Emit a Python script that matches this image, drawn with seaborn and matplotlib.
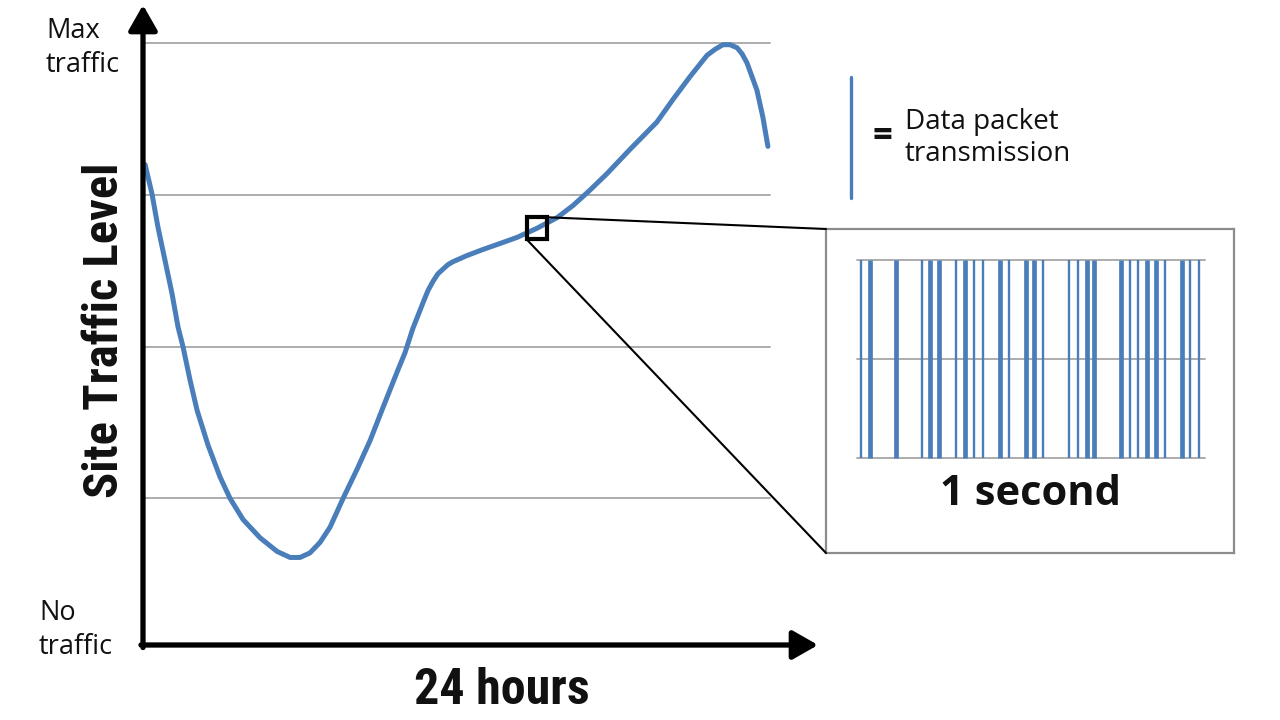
import matplotlib
matplotlib.use("Agg")
import matplotlib.pyplot as plt
from matplotlib import font_manager
from matplotlib.patches import Rectangle, ConnectionPatch
import seaborn as sns
import pandas as pd

# ---------------- data ----------------
hours = [0.08, 0.34, 0.57, 0.84, 1.11, 1.34, 1.53, 1.80, 2.07, 2.49, 2.95, 3.33,
         3.83, 4.48, 5.13, 5.63, 6.01, 6.39, 6.78, 7.16, 7.66, 8.19, 8.69, 9.19,
         9.72, 10.03, 10.33, 10.72, 10.91, 11.10, 11.29, 11.48, 11.67, 11.87,
         12.40, 13.01, 13.67, 14.32, 15.08, 15.85, 16.46, 17.10, 17.76, 18.64,
         19.67, 20.29, 20.94, 21.59, 21.90, 22.20, 22.47, 22.74, 22.93, 23.12,
         23.50, 23.73, 23.92]
traffic = [3.20, 3.01, 2.79, 2.57, 2.35, 2.13, 2.00, 1.78, 1.58, 1.35, 1.14, 1.00,
           0.86, 0.74, 0.65, 0.61, 0.61, 0.64, 0.71, 0.81, 1.00, 1.19, 1.38, 1.60,
           1.83, 1.96, 2.12, 2.29, 2.37, 2.43, 2.48, 2.51, 2.54, 2.56,
           2.60, 2.64, 2.68, 2.72, 2.78, 2.85, 2.93, 3.03, 3.14, 3.30,
           3.48, 3.63, 3.78, 3.92, 3.96, 3.99, 3.99, 3.97, 3.93, 3.87,
           3.69, 3.51, 3.32]
grid_levels = [1, 2, 3, 4]
zoom_hour = 15.08
zoom_level = 2.78

packet_times = [0.011, 0.037, 0.112, 0.186, 0.210, 0.236, 0.284, 0.310, 0.336,
                0.361, 0.411, 0.437, 0.486, 0.509, 0.534, 0.609, 0.635, 0.661,
                0.682, 0.759, 0.784, 0.807, 0.833, 0.859, 0.885, 0.934, 0.957, 0.983]
packet_sizes = [1, 2, 2, 1, 2, 2, 1, 2, 1, 1, 2, 1, 2, 2, 1, 1, 1, 2, 2,
                2, 1, 1, 2, 2, 1, 2, 1, 1]
inset_levels = [0, 1, 2]

label_max = "Max\ntraffic"
label_none = "No\ntraffic"
label_y = "Site Traffic Level"
label_x = "24 hours"
label_inset = "1 second"
legend_text = "Data packet\ntransmission"

# ---------------- style ----------------
sns.set_style("white")
available = {f.name for f in font_manager.fontManager.ttflist}
def pick(*names):
    for n in names:
        if n in available:
            return n
    return "DejaVu Sans"
narrow = pick("Liberation Sans Narrow", "Roboto Condensed", "Open Sans Condensed", "Liberation Sans")
body = pick("Open Sans", "Lato", "Noto Sans")
boldf = pick("Open Sans", "Lato", "Noto Sans")
plt.rcParams["font.family"] = [body, "DejaVu Sans"]

BLUE = "#4a7ebb"
GRID = "#a6a6a6"
INK = "#111111"

W, H = 1280, 720
fig = plt.figure(figsize=(12.8, 7.2), dpi=100)

# main axes: spans from axis origin to the arrow tips
ax = fig.add_axes([143 / W, 1 - 645 / H, (818 - 143) / W, (645 - 5) / H])
ax.set_xlim(0, 24 * 675 / 627)
ax.set_ylim((650 - 645) / 151.7, (650 - 5) / 151.7)
for s in ax.spines.values():
    s.set_visible(False)
ax.set_xticks([]); ax.set_yticks([])
ax.patch.set_alpha(0)

for lv in grid_levels:
    ax.plot([0, 24], [lv, lv], color=GRID, lw=1.3, zorder=1)

df = pd.DataFrame({"hour": hours, "traffic": traffic})
sns.lineplot(data=df, x="hour", y="traffic", ax=ax, color=BLUE, lw=3.6,
             sort=False, zorder=3)
ax.set_xlabel(""); ax.set_ylabel("")
ax.lines[-1].set_solid_capstyle("round")
ax.lines[-1].set_solid_joinstyle("round")

# axis arrows
arrow = dict(arrowstyle="-|>,head_length=0.7,head_width=0.4", lw=3.8, color="black",
             mutation_scale=22, shrinkA=0, shrinkB=0)
ax.annotate("", xy=(1, 0), xytext=(-0.003, 0), xycoords="axes fraction",
            arrowprops=arrow, zorder=5)
ax.annotate("", xy=(0, 1), xytext=(0, -0.004), xycoords="axes fraction",
            arrowprops=arrow, zorder=5)

# zoom square
sq_w, sq_h = 0.80, 0.145
ax.add_patch(Rectangle((zoom_hour - sq_w / 2, zoom_level - sq_h / 2), sq_w, sq_h,
                       fill=False, ec="black", lw=3, zorder=6))

# inset axes
iax = fig.add_axes([826 / W, 1 - 553 / H, 408 / W, 324 / H])
iax.set_xlim((826 - 857) / 348, (1234 - 857) / 348)
iax.set_ylim((458 - 553) / 99, (458 - 229) / 99)
iax.set_xticks([]); iax.set_yticks([])
for s in iax.spines.values():
    s.set_color("#8c8c8c"); s.set_linewidth(1.6)
for lv in inset_levels:
    iax.plot([0, 1], [lv, lv], color=GRID, lw=1.3, zorder=1)
for t, sz in zip(packet_times, packet_sizes):
    iax.plot([t, t], [0, 2], color=BLUE, lw=1.7 * sz, zorder=2,
             solid_capstyle="butt")
iax.text(0.5, -0.37, label_inset, ha="center", va="center", fontsize=30,
         fontweight="bold", family=[boldf, "DejaVu Sans"], color=INK)

# connecting lines
for (sx, sy), (ix, iy) in [(((zoom_hour + sq_w / 2), zoom_level + sq_h / 2), (0, 1)),
                           (((zoom_hour - sq_w / 2), zoom_level - sq_h / 2), (0, 0))]:
    con = ConnectionPatch(xyA=(sx, sy), coordsA=ax.transData,
                          xyB=(ix, iy), coordsB=iax.transAxes,
                          color="black", lw=1.5, zorder=4)
    fig.add_artist(con)

# texts
fig.text(46 / W, 1 - 48 / H, label_max, ha="left", va="center", fontsize=19.5,
         linespacing=1.25, color=INK)
fig.text(39 / W, 1 - 630 / H, label_none, ha="left", va="center", fontsize=19.5,
         linespacing=1.25, color=INK)
fig.text(105 / W, 1 - 330 / H, label_y, ha="center", va="center", rotation=90,
         fontsize=35, fontweight="bold", family=[narrow, "DejaVu Sans"], color=INK)
fig.text(502 / W, 1 - 690 / H, label_x, ha="center", va="center",
         fontsize=36, fontweight="bold", family=[narrow, "DejaVu Sans"], color=INK)

# legend
fig.add_artist(plt.Line2D([851 / W, 851 / W], [1 - 77 / H, 1 - 198 / H],
                          color=BLUE, lw=2.4, transform=fig.transFigure))
fig.text(882 / W, 1 - 137 / H, "=", ha="center", va="center", fontsize=25,
         fontweight="bold", color=INK)
fig.text(905 / W, 1 - 138 / H, legend_text, ha="left", va="center", fontsize=20,
         linespacing=1.2, color=INK)

fig.savefig("out.png", dpi=100)
